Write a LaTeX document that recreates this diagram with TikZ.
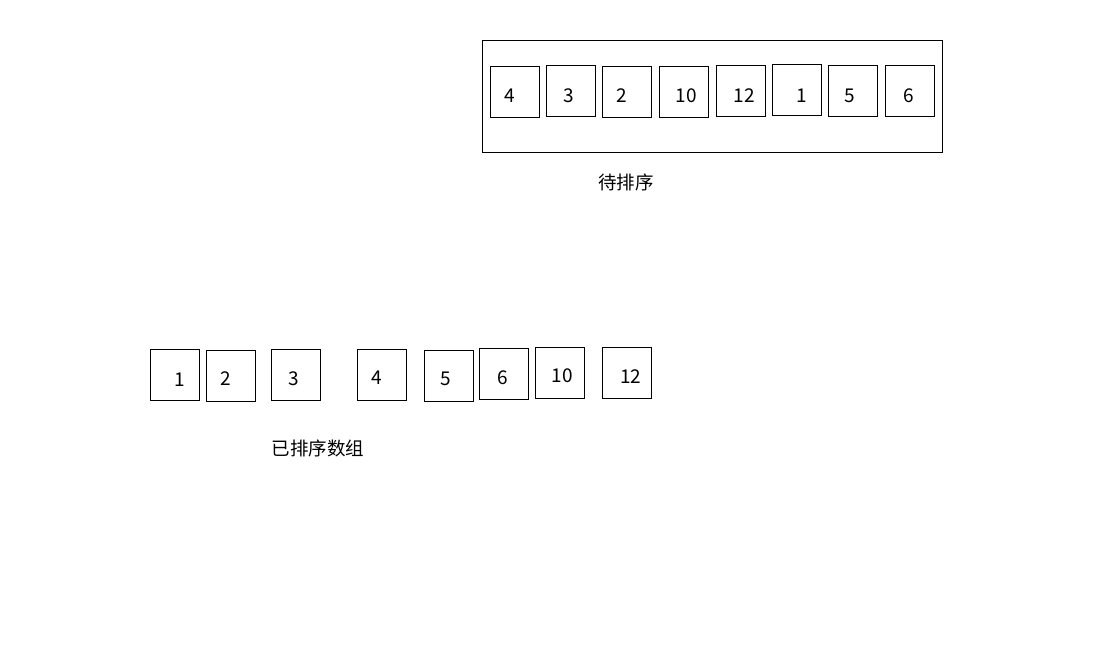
\documentclass[tikz,border=0pt]{standalone}
\usepackage{fontspec}
\setmainfont{Noto Sans CJK SC}
\begin{document}
\begin{tikzpicture}[x=1pt,y=-1pt,
  cell/.style={draw,line width=1pt,minimum width=49pt,minimum height=51pt,inner sep=0pt,anchor=north west},
  num/.style={font=\fontsize{19}{21}\selectfont,inner sep=0pt},
  lbl/.style={font=\fontsize{18.5}{20}\selectfont,inner sep=0pt}]
\useasboundingbox (0,0) rectangle (1118,652);
% outer frame
\node[draw,line width=1pt,minimum width=460pt,minimum height=112pt,inner sep=0pt,anchor=north west] (frame) at (481.5,40.5) {};
% top cells
\node[cell] (t1) at (489.5,66.5) {};
\node[cell] (t2) at (545.5,65.5) {};
\node[cell] (t3) at (601.5,66.5) {};
\node[cell] (t4) at (658.5,66.5) {};
\node[cell] (t5) at (715.5,65.5) {};
\node[cell] (t6) at (771.5,64.5) {};
\node[cell] (t7) at (827.5,65.5) {};
\node[cell] (t8) at (884.5,65.5) {};
\node[num] (tn1) at (509.3,95.5) {4};
\node[num] (tn2) at (568.3,95.5) {3};
\node[num] (tn3) at (621.7,95.5) {2};
\node[num] (tn4) at (686,95.5) {10};
\node[num] (tn5) at (744,95.5) {12};
\node[num] (tn6) at (801.7,95.5) {1};
\node[num] (tn7) at (849.3,95.5) {5};
\node[num] (tn8) at (908.3,95.5) {6};
\node[lbl] (toplabel) at (626,182.5) {待排序};
% bottom cells
\node[cell] (b1) at (149.5,348.5) {};
\node[cell] (b2) at (205.5,349.5) {};
\node[cell] (b3) at (270.5,348.5) {};
\node[cell] (b4) at (356.5,348.5) {};
\node[cell] (b5) at (423.5,349.5) {};
\node[cell] (b6) at (478.5,347.5) {};
\node[cell] (b7) at (534.5,346.5) {};
\node[cell] (b8) at (601.5,346.5) {};
\node[num] (bn1) at (180,379.3) {1};
\node[num] (bn2) at (225.7,378.3) {2};
\node[num] (bn3) at (293.3,378.3) {3};
\node[num] (bn4) at (376.3,377.3) {4};
\node[num] (bn5) at (445.7,379.3) {5};
\node[num] (bn6) at (502.3,377.3) {6};
\node[num] (bn7) at (562.3,375.3) {10};
\node[num] (bn8) at (630.7,376.3) {12};
\node[lbl] (botlabel) at (318,448.5) {已排序数组};
\end{tikzpicture}
\end{document}
